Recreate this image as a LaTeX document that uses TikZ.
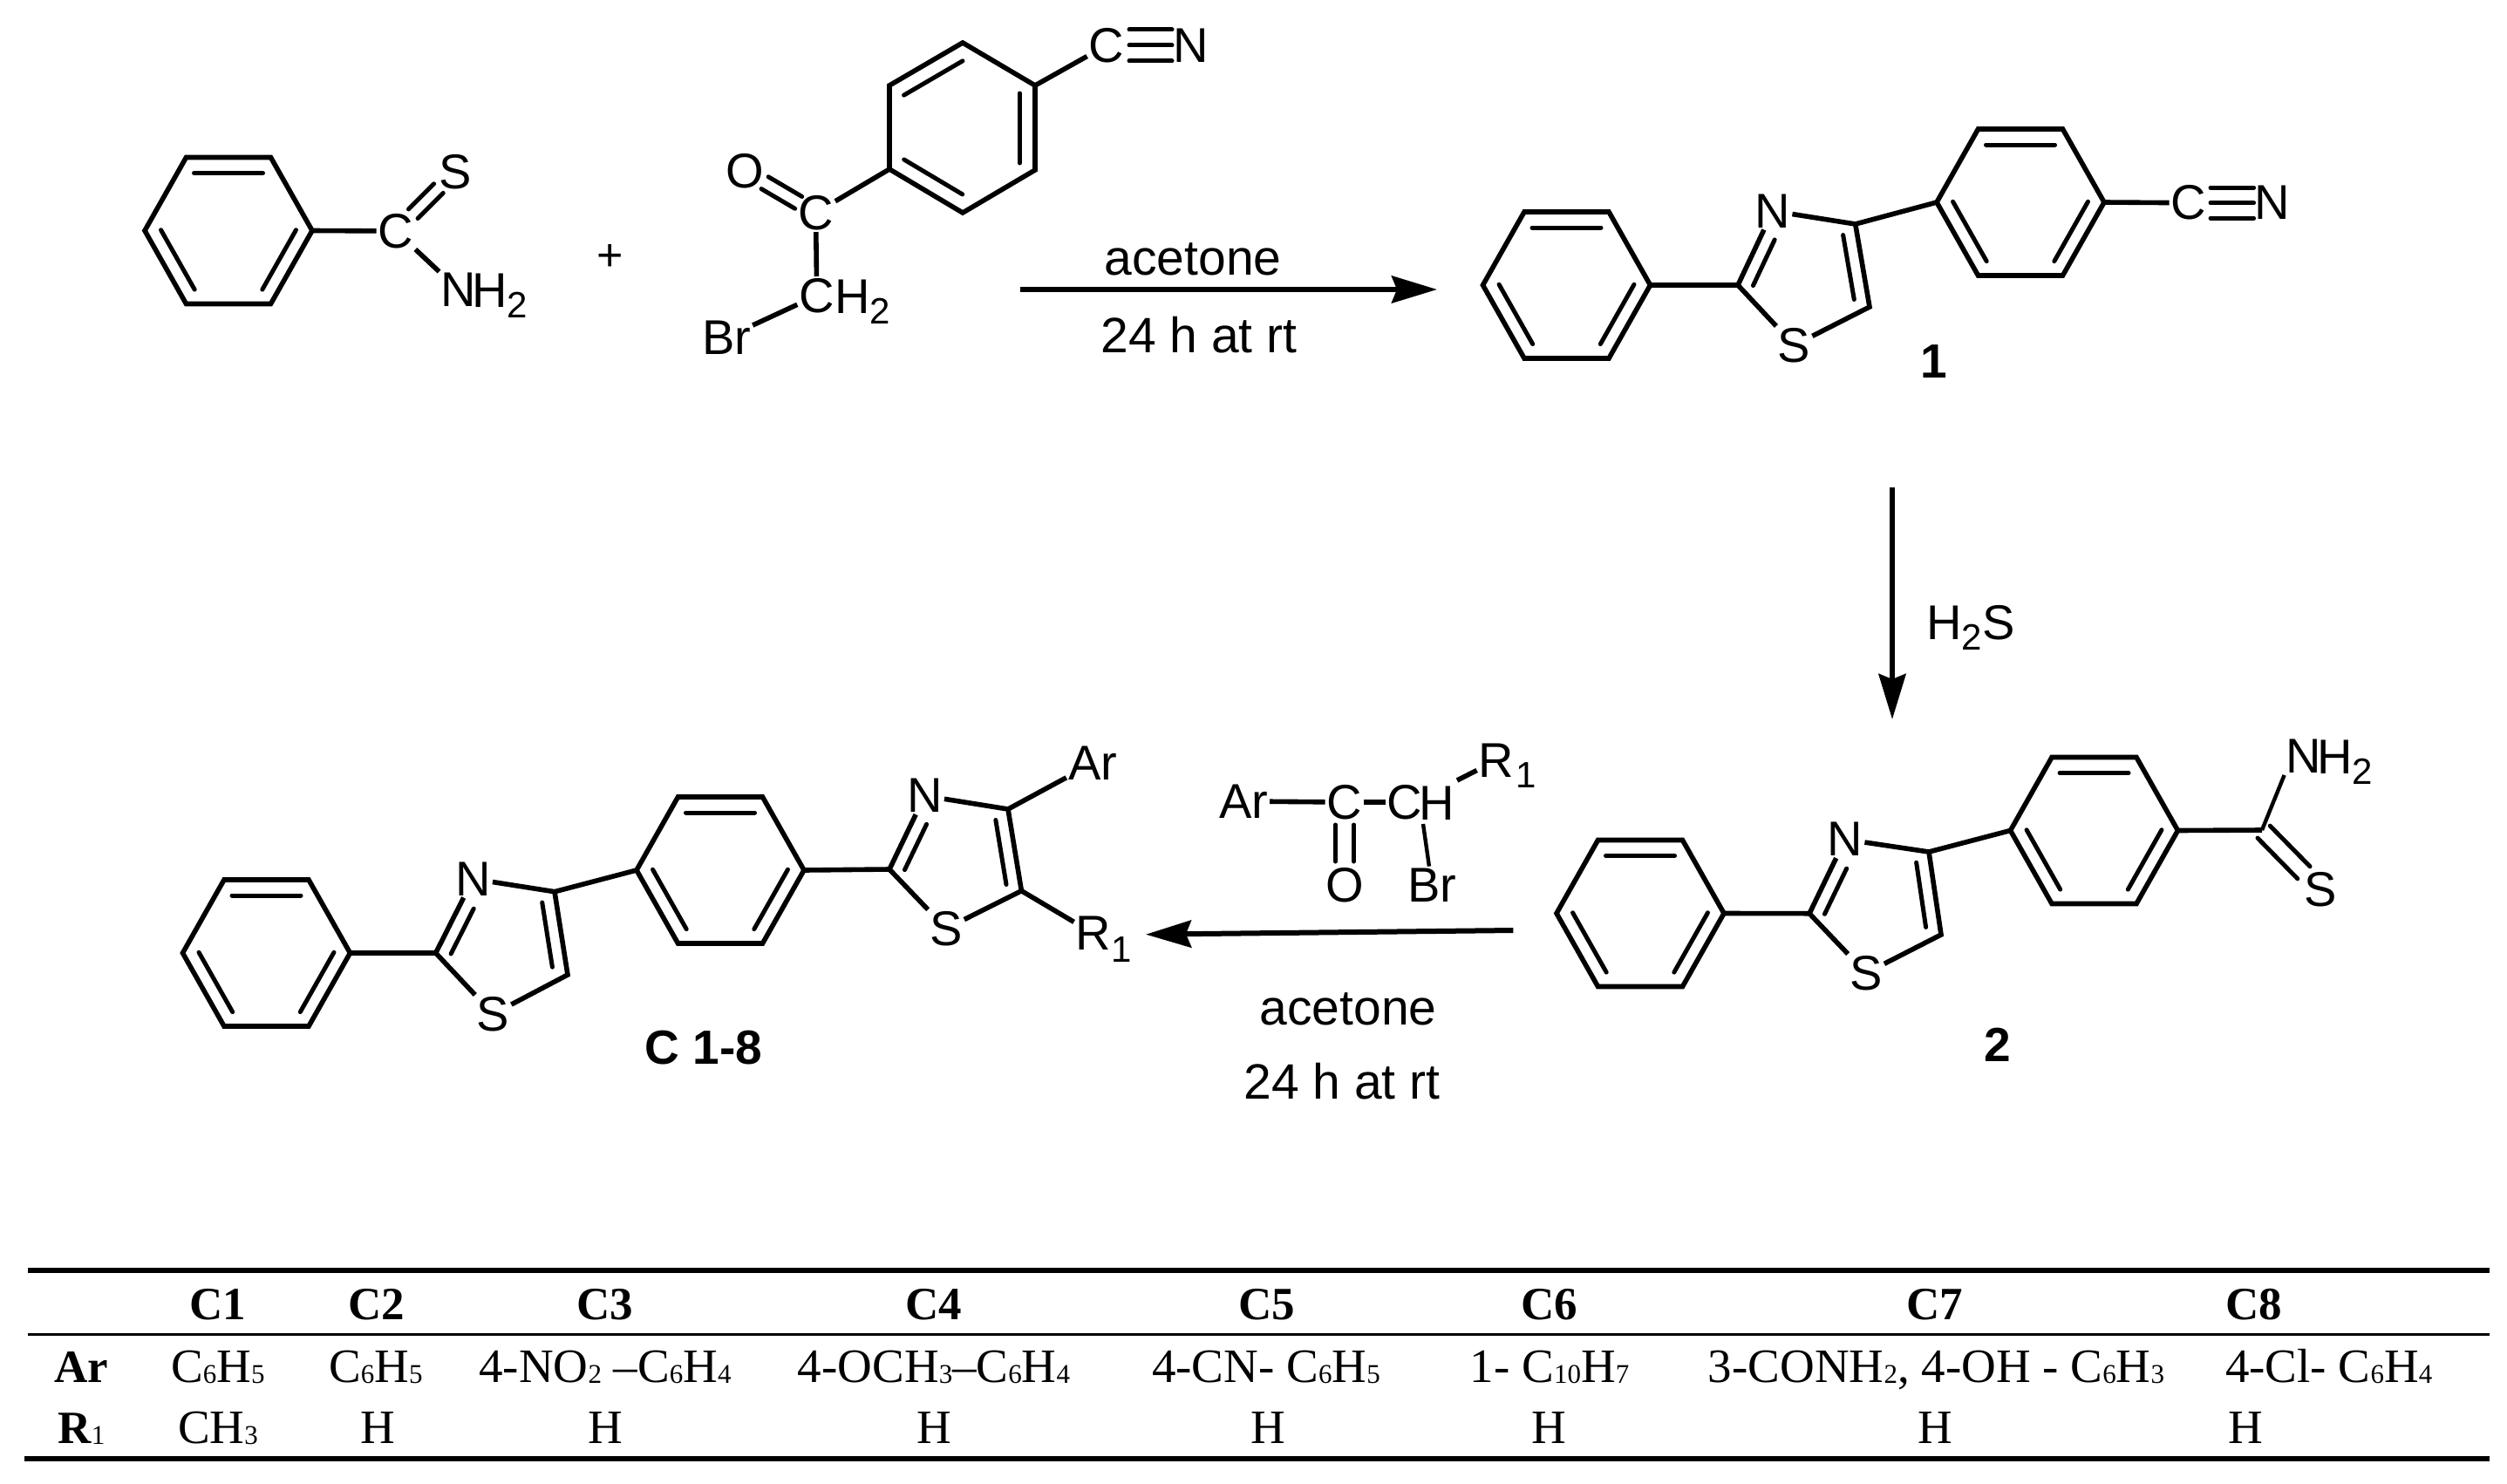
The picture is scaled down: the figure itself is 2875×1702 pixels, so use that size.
\documentclass[tikz,border=0pt]{standalone}
\usepackage{fontspec}
\setmainfont{Liberation Sans}
\newfontfamily\tabfont{Liberation Serif}
\usetikzlibrary{calc,arrows.meta}
\newcommand{\csub}[1]{\raisebox{-12pt}{\fontsize{42}{42}\selectfont #1}}
\newcommand{\tsb}[1]{\raisebox{-1pt}{\fontsize{31}{31}\selectfont\mdseries #1}}
% parallel inner line of a double bond: a, b, from, to, offset, angle
\newcommand{\inn}[6]{\draw[ibond] ($($(#1)!#3pt!(#2)$)!#5pt!#6:(#2)$) -- ($($(#1)!#4pt!(#2)$)!#5pt!#6:(#2)$);}
% double bond between two atoms: a, b, half separation, shorten a, shorten b
\newcommand{\dblb}[5]{%
  \draw[ibond,shorten <=#4pt,shorten >=#5pt] ($(#1)!#3pt!90:(#2)$) -- ($(#2)!#3pt!-90:(#1)$);
  \draw[ibond,shorten <=#4pt,shorten >=#5pt] ($(#1)!#3pt!-90:(#2)$) -- ($(#2)!#3pt!90:(#1)$);}
% triple bond
\newcommand{\tripb}[5]{%
  \draw[ibond,shorten <=#4pt,shorten >=#5pt] (#1.center) -- (#2.center);
  \dblb{#1}{#2}{#3}{#4}{#5}}
% flat-topped benzene ring
\newcommand{\flatring}[3]{%
  \coordinate (#1-c) at (#2,#3);
  \coordinate (#1-L) at ($(#1-c)+(-96,0)$);
  \coordinate (#1-TL) at ($(#1-c)+(-48.5,-84)$);
  \coordinate (#1-TR) at ($(#1-c)+(48.5,-84)$);
  \coordinate (#1-R) at ($(#1-c)+(96,0)$);
  \coordinate (#1-BR) at ($(#1-c)+(48.5,84)$);
  \coordinate (#1-BL) at ($(#1-c)+(-48.5,84)$);
  \draw[bond] (#1-L) -- (#1-TL) -- (#1-TR) -- (#1-R) -- (#1-BR) -- (#1-BL) -- cycle;
  \inn{#1-TL}{#1-TR}{9}{88}{18}{-90}
  \inn{#1-L}{#1-BL}{8.5}{87}{16.5}{90}
  \inn{#1-R}{#1-BR}{8.5}{87}{16.5}{-90}}
% thiazole: prefix, C2, N, S, C5, C4
\newcommand{\thz}[6]{%
  \coordinate (#1-C2) at (#2);
  \node[atom] (#1-N) at (#3) {N};
  \node[atom] (#1-S) at (#4) {S};
  \coordinate (#1-C5) at (#5);
  \coordinate (#1-C4) at (#6);
  \draw[bond] (#1-C2) -- (#1-N);
  \draw[bond] (#1-C2) -- (#1-S);
  \draw[bond] (#1-S) -- (#1-C5) -- (#1-C4) -- (#1-N);
  \inn{#1-C2}{#1-N}{7}{65}{16}{-90}
  \inn{#1-C4}{#1-C5}{10}{85}{16}{-90}}
\tikzset{
  bond/.style={line width=5.6pt,line join=miter,line cap=butt},
  ibond/.style={line width=5pt,line cap=round},
  thinb/.style={line width=4.4pt},
  atom/.style={inner sep=2pt,font=\fontsize{56}{60}\selectfont},
  suffix/.style={inner sep=0pt,anchor=base west,font=\fontsize{56}{60}\selectfont},
  subnum/.style={inner sep=0pt,anchor=base west,font=\fontsize{42}{42}\selectfont},
  caption/.style={inner sep=0pt,anchor=base,font=\fontsize{57}{60}\selectfont},
  cmpd/.style={inner sep=0pt,anchor=base,font=\fontsize{55}{60}\selectfont\bfseries},
  rxn/.style={line width=6pt,-{Stealth[length=52pt,width=31pt,inset=6pt]}},
  thead/.style={inner sep=0pt,anchor=base,font=\tabfont\fontsize{53}{60}\selectfont\bfseries},
  tcell/.style={inner sep=0pt,anchor=base,font=\tabfont\fontsize{55}{60}\selectfont},
  rulethick/.style={line width=6pt},
  rulethin/.style={line width=3pt},
}
\begin{document}
\begin{tikzpicture}[x=1pt,y=-1pt]
\useasboundingbox (0,0) rectangle (2875,1702);
\fill[white] (0,0) rectangle (2875,1702);

% --- thiobenzamide
\flatring{rA}{262}{264.5}
\node[atom] (aC) at (454,265) {C};
\node[atom] (aS) at (522,197) {S};
\node[atom] (aN) at (526,332.5) {N};
\node[suffix] (aH) at (541,352) {H\csub{2}};
\draw[bond] (rA-R) -- (aC);
\dblb{aC}{aS}{7.5}{28}{27}
\draw[bond] (aC) -- (aN);
\node[inner sep=0pt,font=\fontsize{52}{56}\selectfont] (plus) at (699.5,295) {+};

% --- bromoketone
\node[atom] (bC) at (935.5,244) {C};
\node[atom] (bO) at (853.8,196) {O};
\node[atom] (bCH) at (936.7,339) {C};
\node[suffix] (bH) at (957,359) {H\csub{2}};
\node[atom] (bBr) at (833,387) {Br};
\coordinate (bL) at (1020,98);
\coordinate (bT) at (1104,49);
\coordinate (bTR) at (1187,98);
\coordinate (bBR) at (1187,195);
\coordinate (bB) at (1104,244);
\coordinate (bBL) at (1020,194);
\draw[bond] (bL) -- (bT) -- (bTR) -- (bBR) -- (bB) -- (bBL) -- cycle;
\inn{bL}{bT}{8.7}{86.7}{18}{-90}
\inn{bBL}{bB}{8.7}{86.7}{18}{90}
\inn{bTR}{bBR}{9}{89}{17.7}{-90}
\draw[bond] (bBL) -- (bC);
\dblb{bC}{bO}{8}{23}{27}
\draw[bond] (bC) -- (bCH);
\draw[bond] (bBr) -- (bCH);
\node[atom] (bCn) at (1269,52) {C};
\node[atom] (bNn) at (1366,52) {N};
\draw[bond] (bTR) -- (bCn);
\tripb{bCn}{bNn}{18}{26}{22}

% --- arrow 1
\coordinate (a1s) at (1170,332);
\coordinate (a1e) at (1648,332);
\draw[rxn] (a1s) -- (a1e);
\node[caption] (a1t) at (1368,315) {acetone};
\node[caption] (a1b) at (1375,404) {24 h at rt};

% --- compound 1
\flatring{m1a}{1796.5}{327}
\flatring{m1b}{2317}{232}
\thz{m1}{1993,327}{2033,242}{2057.5,396}{2144,352}{2127.7,257}
\draw[bond] (m1a-R) -- (m1-C2);
\draw[bond] (m1-C4) -- (m1b-L);
\node[atom] (m1C) at (2510,232.7) {C};
\node[atom] (m1N) at (2605.6,232.7) {N};
\draw[bond] (m1b-R) -- (m1C);
\tripb{m1C}{m1N}{17.5}{25}{21}
\node[cmpd] (lab1) at (2217.5,433) {1};

% --- arrow 2
\coordinate (a2s) at (2170,559);
\coordinate (a2e) at (2170,825);
\draw[rxn] (a2s) -- (a2e);
\node[suffix] (h2s) at (2209,733) {H\csub{2}S};

% --- compound 2
\flatring{m2a}{1881}{1047.5}
\flatring{m2b}{2401.5}{952.5}
\thz{m2}{2075,1047.7}{2116,962.7}{2140,1116}{2226,1072}{2212,977}
\draw[bond] (m2a-R) -- (m2-C2);
\draw[bond] (m2-C4) -- (m2b-L);
\coordinate (m2T) at (2594,952);
\draw[bond] (m2b-R) -- (m2T);
\node[atom] (m2N) at (2642,867.5) {N};
\node[suffix] (m2H) at (2657,887) {H\csub{2}};
\node[atom] (m2S) at (2660.8,1020) {S};
\draw[thinb] (m2T) -- (m2N.south west);
\dblb{m2T}{m2S}{10}{3}{27}
\node[cmpd] (lab2) at (2290.4,1217) {2};

% --- reagent over arrow 3
\node[atom] (rAr) at (1426,919) {Ar};
\node[atom] (rC) at (1542,920) {C};
\node[atom] (rCH) at (1611,920) {C};
\node[suffix] (rH) at (1627,940) {H};
\node[atom] (rR) at (1716,872) {R};
\node[subnum] (rR1) at (1738,903) {1};
\node[atom] (rO) at (1542,1015) {O};
\node[atom] (rBr) at (1642,1015) {Br};
\draw[bond] (rAr) -- (rC);
\draw[bond] (rC) -- (rCH);
\coordinate (rHtop) at (1671,895);
\draw[bond] (rHtop) -- (rR);
\dblb{rC}{rO}{10.5}{26}{27}
\coordinate (rHbot) at (1632,945);
\draw[thinb] (rHbot) -- (rBr);

% --- arrow 3
\coordinate (a3s) at (1735.4,1067);
\coordinate (a3e) at (1314,1071.7);
\draw[rxn] (a3s) -- (a3e);
\node[caption] (a3t) at (1546,1175) {acetone};
\node[caption] (a3b) at (1539,1260) {24 h at rt};

% --- product C
\flatring{mCa}{305.5}{1093}
\flatring{mCb}{826}{998}
\thz{mC}{499.7,1093}{542.5,1008}{565.5,1163}{651,1118}{636,1022.7}
\thz{mD}{1020,997}{1060.5,912.7}{1085,1065}{1171.4,1021.7}{1156,928}
\draw[bond] (mCa-R) -- (mC-C2);
\draw[bond] (mC-C4) -- (mCb-L);
\draw[bond] (mCb-R) -- (mD-C2);
\node[atom] (dAr) at (1253,875.5) {Ar};
\node[atom] (dR) at (1254,1070.7) {R};
\node[subnum] (dR1) at (1274,1103) {1};
\draw[bond] (mD-C4) -- (dAr);
\draw[bond] (mD-C5) -- (dR);
\node[cmpd] (labC) at (807,1220) {C 1-8};

% --- table rules
\coordinate (t1l) at (32,1456.7);  \coordinate (t1r) at (2855,1456.7);
\coordinate (t2l) at (32,1530);    \coordinate (t2r) at (2855,1530);
\coordinate (t3l) at (28,1673);    \coordinate (t3r) at (2855,1673);
\draw[rulethick] (t1l) -- (t1r);
\draw[rulethin] (t2l) -- (t2r);
\draw[rulethick] (t3l) -- (t3r);

% --- table header
\node[thead] (hC1) at (250,1513) {C1};
\node[thead] (hC2) at (432,1513) {C2};
\node[thead] (hC3) at (694,1513) {C3};
\node[thead] (hC4) at (1071,1513) {C4};
\node[thead] (hC5) at (1453,1513) {C5};
\node[thead] (hC6) at (1776.5,1513) {C6};
\node[thead] (hC7) at (2219,1513) {C7};
\node[thead] (hC8) at (2585,1513) {C8};
% --- row Ar
\node[thead] (rowAr) at (93.4,1585.7) {Ar};
\node[tcell] (a1) at (250,1585.7) {C\tsb{6}H\tsb{5}};
\node[tcell] (a2) at (431,1585.7) {C\tsb{6}H\tsb{5}};
\node[tcell] (a3) at (694,1585.7) {4-NO\tsb{2} –C\tsb{6}H\tsb{4}};
\node[tcell] (a4) at (1071,1585.7) {4-OCH\tsb{3}–C\tsb{6}H\tsb{4}};
\node[tcell] (a5) at (1452,1585.7) {4-CN- C\tsb{6}H\tsb{5}};
\node[tcell] (a6) at (1777,1585.7) {1- C\tsb{10}H\tsb{7}};
\node[tcell] (a7) at (2220.5,1585.7) {3-CONH\tsb{2}, 4-OH - C\tsb{6}H\tsb{3}};
\node[tcell] (a8) at (2670.6,1585.7) {4-Cl- C\tsb{6}H\tsb{4}};
% --- row R1
\node[thead] (rowR) at (93.4,1655) {R\tsb{1}};
\node[tcell] (b1) at (250,1655) {CH\tsb{3}};
\node[tcell] (b2) at (433,1655) {H};
\node[tcell] (b3) at (694,1655) {H};
\node[tcell] (b4) at (1071,1655) {H};
\node[tcell] (b5) at (1454.6,1655) {H};
\node[tcell] (b6) at (1776.5,1655) {H};
\node[tcell] (b7) at (2219,1655) {H};
\node[tcell] (b8) at (2575,1655) {H};
\end{tikzpicture}
\end{document}
